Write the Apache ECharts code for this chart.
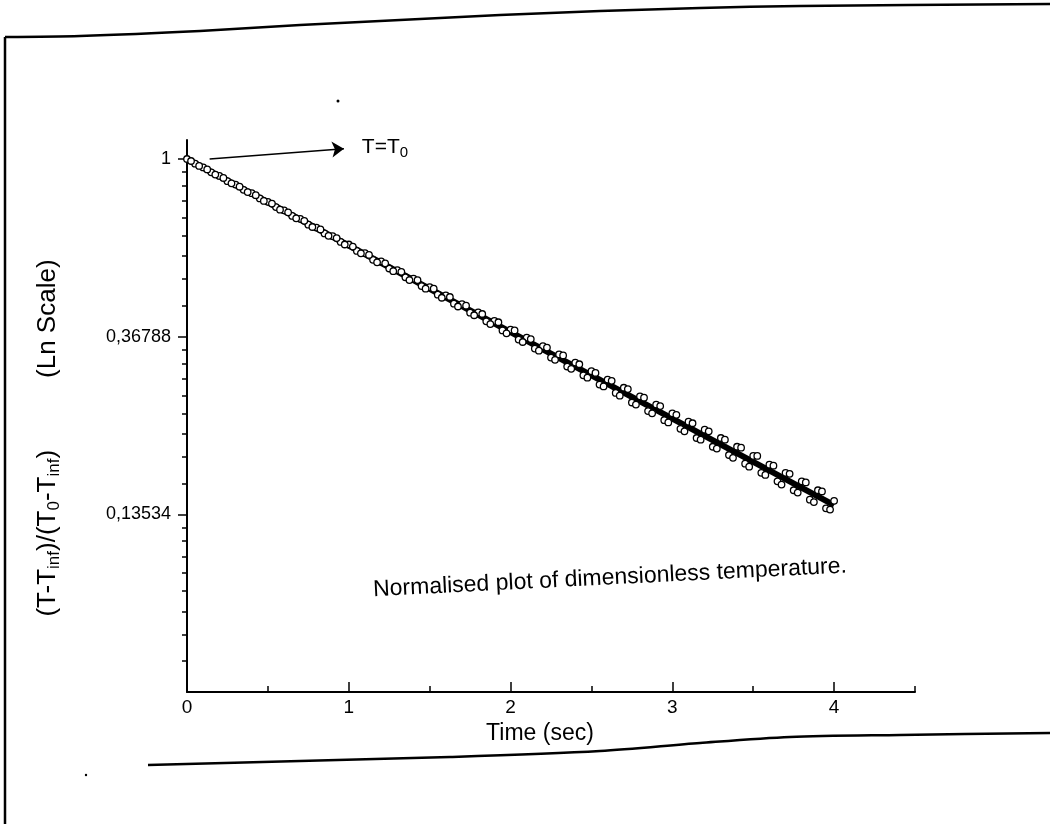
<!DOCTYPE html>
<html>
<head>
<meta charset="utf-8">
<script src="https://cdn.jsdelivr.net/npm/echarts@6/dist/echarts.min.js"></script>
<style>
html,body{margin:0;padding:0;background:#fff;}
#chart{width:1050px;height:824px;}
</style>
</head>
<body>
<div id="chart"></div>
<script>
// ---- data ----
const timeSecA = [0,0.05,0.10,0.15,0.20,0.25,0.30,0.35,0.40,0.45,0.50,0.55,0.60,0.65,0.70,0.75,0.80,0.85,0.90,0.95,
  1.00,1.05,1.10,1.15,1.20,1.25,1.30,1.35,1.40,1.45,1.50,1.55,1.60,1.65,1.70,1.75,1.80,1.85,1.90,1.95,
  2.00,2.05,2.10,2.15,2.20,2.25,2.30,2.35,2.40,2.45,2.50,2.55,2.60,2.65,2.70,2.75,2.80,2.85,2.90,2.95,
  3.00,3.05,3.10,3.15,3.20,3.25,3.30,3.35,3.40,3.45,3.50,3.55,3.60,3.65,3.70,3.75,3.80,3.85,3.90,3.95,4.00];
const normTempA = [1.000,0.974,0.954,0.928,0.909,0.883,0.866,0.841,0.825,0.801,0.786,0.763,0.749,0.726,0.714,0.691,0.680,0.658,0.648,0.627,
  0.618,0.596,0.589,0.567,0.562,0.540,0.535,0.514,0.510,0.489,0.486,0.466,0.464,0.443,0.442,0.421,0.422,0.401,0.402,0.381,
  0.383,0.362,0.366,0.344,0.349,0.327,0.333,0.311,0.318,0.296,0.303,0.281,0.289,0.268,0.276,0.254,0.263,0.242,0.251,0.230,
  0.239,0.219,0.228,0.208,0.218,0.198,0.208,0.189,0.198,0.180,0.188,0.171,0.179,0.163,0.171,0.155,0.163,0.147,0.155,0.140,0.146];
const timeSecB = [0.025,0.075,0.125,0.175,0.225,0.275,0.325,0.375,0.425,0.475,0.525,0.575,0.625,0.675,0.725,0.775,0.825,0.875,0.925,0.975,
  1.025,1.075,1.125,1.175,1.225,1.275,1.325,1.375,1.425,1.475,1.525,1.575,1.625,1.675,1.725,1.775,1.825,1.875,1.925,1.975,
  2.025,2.075,2.125,2.175,2.225,2.275,2.325,2.375,2.425,2.475,2.525,2.575,2.625,2.675,2.725,2.775,2.825,2.875,2.925,2.975,
  3.025,3.075,3.125,3.175,3.225,3.275,3.325,3.375,3.425,3.475,3.525,3.575,3.625,3.675,3.725,3.775,3.825,3.875,3.925,3.975];
const normTempB = [0.989,0.962,0.943,0.916,0.899,0.872,0.856,0.830,0.816,0.790,0.778,0.752,0.741,0.716,0.706,0.682,0.673,0.649,0.641,0.618,
  0.611,0.588,0.583,0.559,0.556,0.532,0.530,0.506,0.506,0.482,0.482,0.458,0.460,0.436,0.438,0.415,0.418,0.395,0.399,0.375,
  0.381,0.357,0.363,0.340,0.346,0.323,0.331,0.307,0.315,0.292,0.300,0.278,0.287,0.264,0.274,0.251,0.261,0.239,0.249,0.227,
  0.237,0.216,0.226,0.206,0.216,0.196,0.206,0.186,0.197,0.177,0.188,0.169,0.178,0.160,0.170,0.153,0.162,0.145,0.154,0.139];
const fitTime = [0, 4];
const fitTemp = [1.0, 0.1426];
const xTickValues = [0, 1, 2, 3, 4];
const xTickLabels = ['0', '1', '2', '3', '4'];
const xMinorValues = [0.5, 1.5, 2.5, 3.5, 4.5];
const yTickValues = [1, 0.36788, 0.13534];
const yTickLabels = ['1', '0,36788', '0,13534'];
const yLowerMajor = 0.04979;
const yBottom = 0.04979;
const yTop = 1.113;

// minor ticks of the Ln axis: 9 linear subdivisions between major ticks
const yMajorAll = yTickValues.concat([yLowerMajor]);
const yMinorValues = [];
for (let i = 0; i < yMajorAll.length - 1; i++) {
  const a = yMajorAll[i], b = yMajorAll[i + 1];
  for (let k = 1; k <= 8; k++) yMinorValues.push(a - k * (a - b) / 9);
}

const scatterData = timeSecA.map((t, i) => [t, normTempA[i]])
  .concat(timeSecB.map((t, i) => [t, normTempB[i]]));
const fitData = fitTime.map((t, i) => [t, fitTemp[i]]);

const FONT = '"Liberation Sans", Arial, sans-serif';
const chart = echarts.init(document.getElementById('chart'), null, {renderer: 'canvas'});

const gridBox = {left: 187, right: 135, top: 140, bottom: 132};

chart.setOption({
  animation: false,
  backgroundColor: '#ffffff',
  grid: [Object.assign({}, gridBox), Object.assign({}, gridBox)],
  xAxis: [{
    type: 'value', gridIndex: 0, min: 0, max: 4.5,
    axisLine: {show: true, onZero: false, lineStyle: {color: '#000', width: 2}},
    axisTick: {show: true, inside: true, length: 10, customValues: xTickValues, lineStyle: {color: '#000', width: 1.5}},
    axisLabel: {show: true, customValues: xTickValues, margin: 6, color: '#000', fontSize: 19, fontFamily: FONT,
      formatter: v => { const i = xTickValues.findIndex(x => Math.abs(x - v) < 1e-6); return i >= 0 ? xTickLabels[i] : ''; }},
    splitLine: {show: false},
    name: 'Time (sec)', nameLocation: 'middle', nameGap: 29,
    nameTextStyle: {color: '#000', fontSize: 23, fontFamily: FONT, padding: [0, 22, 0, 0]}
  }, {
    type: 'value', gridIndex: 1, min: 0, max: 4.5,
    axisLine: {show: false},
    axisTick: {show: true, inside: true, length: 6, customValues: xMinorValues, lineStyle: {color: '#000', width: 1.5}},
    axisLabel: {show: false},
    splitLine: {show: false}
  }],
  yAxis: [{
    type: 'log', logBase: Math.E, gridIndex: 0, min: yBottom, max: yTop,
    axisLine: {show: true, onZero: false, lineStyle: {color: '#000', width: 2}},
    axisTick: {show: true, inside: false, length: 9, customValues: yTickValues, lineStyle: {color: '#000', width: 1.5}},
    axisLabel: {show: true, customValues: yTickValues, margin: 16, color: '#000', fontSize: 18, fontFamily: FONT,
      formatter: v => { let best = -1, bd = 1e9; yTickValues.forEach((y, i) => { const d = Math.abs(Math.log(y) - Math.log(v)); if (d < bd) { bd = d; best = i; } }); return bd < 1e-3 ? yTickLabels[best] : ''; }},
    splitLine: {show: false},
    minorTick: {show: false},
    name: '(T-T{s|inf})/(T{s|0}-T{s|inf}){g| }(Ln Scale)',
    nameLocation: 'middle', nameGap: 124, nameRotate: 90,
    nameTextStyle: {color: '#000', fontSize: 26, fontFamily: FONT, padding: [0, 44, 0, 0],
      rich: {
        s: {fontSize: 17, fontFamily: FONT, color: '#000', padding: [14, 0, 0, 0]},
        g: {width: 72, fontSize: 26}
      }}
  }, {
    type: 'log', logBase: Math.E, gridIndex: 1, min: yBottom, max: yTop,
    axisLine: {show: false},
    axisTick: {show: true, inside: false, length: 5, customValues: yMinorValues, lineStyle: {color: '#000', width: 1.5}},
    axisLabel: {show: false},
    splitLine: {show: false}
  }],
  series: [{
    name: 'fit', type: 'line', xAxisIndex: 0, yAxisIndex: 0,
    data: fitData, showSymbol: false, silent: true, z: 2,
    lineStyle: {color: '#000', width: 6},
    markLine: {
      silent: true, symbol: ['none', 'arrow'], symbolSize: 12,
      lineStyle: {color: '#000', width: 1.5, type: 'solid'},
      label: {show: true, position: 'end', distance: 18, color: '#000', fontSize: 21, fontFamily: FONT,
        formatter: 'T=T{s|0}', rich: {s: {fontSize: 15, fontFamily: FONT, color: '#000', padding: [12, 0, 0, 0]}}},
      data: [[{coord: [0.14, 1.0]}, {coord: [0.97, 1.06]}]]
    }
  }, {
    name: 'measured', type: 'scatter', xAxisIndex: 0, yAxisIndex: 0,
    data: scatterData, symbol: 'circle', symbolSize: 6.5, z: 3,
    itemStyle: {color: '#ffffff', borderColor: '#000000', borderWidth: 1.3, opacity: 1}
  }],
  graphic: [
    {type: 'polyline', silent: true, shape: {points: [[5,37],[80,36],[200,31],[300,25],[400,20],[500,15],[600,11],[700,8],[800,6],[1050,4]], smooth: 0.3}, style: {stroke: '#000', lineWidth: 2.5, fill: null}},
    {type: 'polyline', silent: true, shape: {points: [[5,37],[5,824]]}, style: {stroke: '#000', lineWidth: 2.5, fill: null}},
    {type: 'polyline', silent: true, shape: {points: [[148,765],[300,761],[450,757],[600,751],[700,743],[790,737],[900,735],[1050,733]], smooth: 0.3}, style: {stroke: '#000', lineWidth: 2.5, fill: null}},
    {type: 'circle', silent: true, shape: {cx: 338, cy: 101, r: 1.5}, style: {fill: '#000'}},
    {type: 'circle', silent: true, shape: {cx: 86, cy: 775, r: 1.2}, style: {fill: '#000'}},
    {type: 'text', silent: true, x: 610, y: 578, rotation: 0.05,
      style: {text: 'Normalised plot of dimensionless temperature.', fill: '#000', font: '23px ' + FONT, align: 'center', verticalAlign: 'middle'}}
  ]
});
</script>
</body>
</html>
